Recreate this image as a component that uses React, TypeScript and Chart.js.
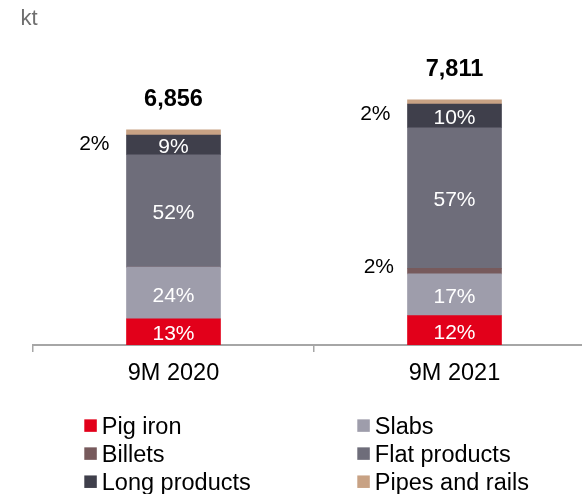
import React, { useEffect, useRef } from "react";
import { Chart, registerables } from "chart.js";

Chart.register(...registerables);

// ---------- data ----------
const categories = ["9M 2020", "9M 2021"];
const seriesNames = ["Pig iron", "Slabs", "Billets", "Flat products", "Long products", "Pipes and rails"];
const pigIron = [830, 935];
const slabs = [1650, 1330];
const billets = [0, 180];
const flatProducts = [3580, 4475];
const longProducts = [625, 755];
const pipesAndRails = [171, 136];
const totals = [6856, 7811];

const pigIronLabels = ["13%", "12%"];
const slabsLabels = ["24%", "17%"];
const billetsLabels = ["", "2%"];
const flatLabels = ["52%", "57%"];
const longLabels = ["9%", "10%"];
const pipesLabels = ["2%", "2%"];
const unitLabel = "kt";

// ---------- styles ----------
const FONT = "'Liberation Sans', Arial, Helvetica, sans-serif";
const colors = ["#e2001a", "#9e9dab", "#775a5c", "#6e6d7a", "#3f3f4b", "#c8a284"];
const seriesValues = [pigIron, slabs, billets, flatProducts, longProducts, pipesAndRails];
const seriesLabels = [pigIronLabels, slabsLabels, billetsLabels, flatLabels, longLabels, pipesLabels];
// which series get their label outside (left of the bar)
const outside = [false, false, true, false, false, true];

const CANVAS_W = 620;
const CANVAS_H = 494;

const labelPlugin = {
  id: "customLabels",
  afterDatasetsDraw(chart: any) {
    const ctx = chart.ctx as CanvasRenderingContext2D;
    ctx.save();
    ctx.textBaseline = "alphabetic";
    chart.data.datasets.forEach((_ds: any, i: number) => {
      const meta = chart.getDatasetMeta(i);
      const labels = seriesLabels[i];
      meta.data.forEach((el: any, j: number) => {
        const text = labels[j];
        if (!text) return;
        const p = el.getProps(["x", "y", "base", "width"], true);
        const top = Math.min(p.y, p.base);
        const bottom = Math.max(p.y, p.base);
        const left = p.x - p.width / 2;
        if (outside[i]) {
          ctx.font = `21px ${FONT}`;
          ctx.fillStyle = "#000000";
          ctx.textAlign = "right";
          if (i === chart.data.datasets.length - 1) {
            ctx.fillText(text, left - 17, top + 20.5);
          } else {
            ctx.fillText(text, left - 13.5, bottom - 0.7);
          }
        } else {
          ctx.font = `21px ${FONT}`;
          ctx.fillStyle = "#ffffff";
          ctx.textAlign = "center";
          ctx.fillText(text, p.x, (top + bottom) / 2 + 8.5);
        }
      });
    });
    // totals
    const yScale = chart.scales.y;
    const xScale = chart.scales.x;
    ctx.font = `bold 23.5px ${FONT}`;
    ctx.fillStyle = "#000000";
    ctx.textAlign = "center";
    totals.forEach((t, j) => {
      const x = xScale.getPixelForValue(j);
      const y = yScale.getPixelForValue(t);
      ctx.fillText(t.toLocaleString("en-US"), x, y - 23.3);
    });
    ctx.restore();
  },
  afterDraw(chart: any) {
    const ctx = chart.ctx as CanvasRenderingContext2D;
    ctx.save();
    // unit
    ctx.font = `22px ${FONT}`;
    ctx.fillStyle = "#6f6f6f";
    ctx.textAlign = "left";
    ctx.textBaseline = "alphabetic";
    ctx.fillText(unitLabel, 20.5, 25);
    // legend (2 columns)
    const colX = [84.3, 357.3];
    const rowY = [425.6, 453.6, 481.7];
    const sq = 12.5;
    ctx.font = `23.5px ${FONT}`;
    chart.data.datasets.forEach((ds: any, i: number) => {
      const cx = colX[i % 2];
      const cy = rowY[Math.floor(i / 2)];
      ctx.fillStyle = ds.backgroundColor;
      ctx.fillRect(cx, cy - sq / 2, sq, sq);
      ctx.fillStyle = "#000000";
      ctx.fillText(ds.label, cx + 17.5, cy + 8.4);
    });
    ctx.restore();
  },
};

export default function App() {
  const ref = useRef<HTMLCanvasElement | null>(null);
  useEffect(() => {
    if (!ref.current) return;
    const chart = new Chart(ref.current, {
      type: "bar",
      data: {
        labels: categories,
        datasets: seriesNames.map((name, i) => ({
          label: name,
          data: seriesValues[i],
          backgroundColor: colors[i],
          borderWidth: 0,
          barThickness: 94,
        })),
      },
      options: {
        animation: false,
        responsive: false,
        devicePixelRatio: 1,
        layout: { padding: { left: 33, right: CANVAS_W - 595, top: 31, bottom: 0 } },
        plugins: {
          legend: { display: false },
          tooltip: { enabled: false },
          title: { display: false },
        },
        scales: {
          x: {
            stacked: true,
            offset: true,
            grid: {
              display: true,
              offset: true,
              drawOnChartArea: false,
              drawTicks: true,
              tickLength: 7,
              color: "#a6a6a6",
              lineWidth: 1.5,
            },
            border: { display: true, color: "#a6a6a6", width: 2 },
            ticks: {
              color: "#000000",
              padding: 7,
              font: { family: FONT, size: 23.5 },
              maxRotation: 0,
            },
            afterFit(scale: any) {
              scale.height = 149;
            },
          },
          y: {
            stacked: true,
            display: false,
            min: 0,
            max: 10000,
          },
        },
      },
      plugins: [labelPlugin],
    });
    return () => chart.destroy();
  }, []);

  return (
    <div
      style={{
        position: "absolute",
        left: 0,
        top: 0,
        width: 582,
        height: 494,
        overflow: "hidden",
        background: "#ffffff",
      }}
    >
      <canvas ref={ref} width={CANVAS_W} height={CANVAS_H} style={{ display: "block" }} />
    </div>
  );
}
